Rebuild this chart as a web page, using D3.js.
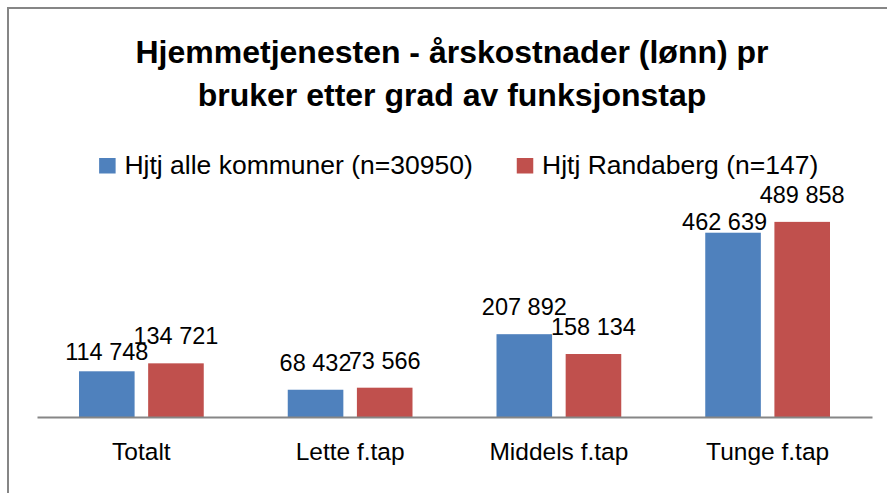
<!DOCTYPE html>
<html>
<head>
<meta charset="utf-8">
<script src="https://cdn.jsdelivr.net/npm/d3@7/dist/d3.min.js"></script>
<style>
  html, body { margin: 0; padding: 0; background: #ffffff; }
  svg { display: block; font-family: "Liberation Sans", Arial, sans-serif; }
</style>
</head>
<body>
<svg id="chart" width="887" height="493"></svg>
<script>
// ---- data ----
const titleLines = ["Hjemmetjenesten - årskostnader (lønn) pr", "bruker etter grad av funksjonstap"];
const categories = ["Totalt", "Lette f.tap", "Middels f.tap", "Tunge f.tap"];
const seriesNames = ["Hjtj alle kommuner (n=30950)", "Hjtj Randaberg (n=147)"];
const allKommuner = [114748, 68432, 207892, 462639];
const randaberg = [134721, 73566, 158134, 489858];
const seriesColors = ["#4F81BD", "#C0504D"];
// manual label nudges (dx, dy) as placed in the original chart
const labelNudge = [
  [[0, 7.5], [0, 0]],
  [[0, 0], [0, 0]],
  [[0, 0], [0, 0]],
  [[-8.5, 16], [0, 0]]
];

const fmt = v => d3.format(",")(v).replace(/,/g, " ");

const svg = d3.select("#chart");
const W = 887, H = 493;

// background + chart border
svg.append("rect").attr("width", W).attr("height", H).attr("fill", "#ffffff");
svg.append("rect")
  .attr("x", 8).attr("y", 8)
  .attr("width", 920).attr("height", 520)
  .attr("fill", "none").attr("stroke", "#868686").attr("stroke-width", 2);

// title
svg.append("g").selectAll("text").data(titleLines).join("text")
  .attr("x", 452).attr("y", (d, i) => 63 + i * 43)
  .attr("text-anchor", "middle")
  .attr("font-size", 32).attr("font-weight", "bold").attr("fill", "#000")
  .text(d => d);

// scales
const plotLeft = 37, plotRight = 872, baseY = 417, topY = 178;
const x0 = d3.scaleBand().domain(categories).range([plotLeft, plotRight])
  .paddingInner(0.4024).paddingOuter(0.2012);
const x1 = d3.scaleBand().domain([0, 1]).range([0, x0.bandwidth()]).paddingInner(0.196);
const y = d3.scaleLinear().domain([0, 600000]).range([baseY, topY]);

const rows = categories.map((c, i) => ({
  cat: c,
  vals: [allKommuner[i], randaberg[i]],
  nudge: labelNudge[i]
}));

// bars
const g = svg.append("g");
const cg = g.selectAll("g.cat").data(rows).join("g")
  .attr("class", "cat")
  .attr("transform", d => `translate(${x0(d.cat)},0)`);

cg.selectAll("rect").data(d => d.vals.map((v, s) => ({ v, s }))).join("rect")
  .attr("x", d => x1(d.s))
  .attr("y", d => y(d.v))
  .attr("width", x1.bandwidth())
  .attr("height", d => baseY - y(d.v))
  .attr("fill", d => seriesColors[d.s]);

// x axis
const xAxis = d3.axisBottom(x0).tickSize(0).tickPadding(0);
const axG = svg.append("g").attr("transform", `translate(0,${baseY})`).call(xAxis);
axG.select(".domain").attr("stroke", "#868686").attr("stroke-width", 2);
axG.selectAll(".tick text")
  .attr("dy", null).attr("y", 43)
  .attr("font-family", "Liberation Sans, Arial, sans-serif")
  .attr("font-size", 24.5).attr("fill", "#000");

// value labels
cg.selectAll("text.val").data(d => d.vals.map((v, s) => ({ v, s, n: d.nudge[s] }))).join("text")
  .attr("class", "val")
  .attr("x", d => x1(d.s) + x1.bandwidth() / 2 + d.n[0])
  .attr("y", d => y(d.v) - 19 + d.n[1])
  .attr("text-anchor", "middle")
  .attr("font-size", 23.5).attr("fill", "#000")
  .text(d => fmt(d.v));

// legend
const leg = svg.append("g");
const items = leg.selectAll("g").data(seriesNames).join("g");
items.append("rect")
  .attr("x", 0).attr("y", -16).attr("width", 16.5).attr("height", 15.5)
  .attr("fill", (d, i) => seriesColors[i]);
items.append("text")
  .attr("x", 25.3).attr("y", 0)
  .attr("font-size", 26.5).attr("fill", "#000")
  .text(d => d);
let xpos = 0;
const offsets = [];
items.each(function (d, i) {
  offsets.push(xpos);
  const w = 25.3 + d3.select(this).select("text").node().getComputedTextLength();
  xpos += w + 44;
});
const totalW = xpos - 44;
const legStart = 458.7 - totalW / 2;
items.attr("transform", (d, i) => `translate(${legStart + offsets[i]},174)`);
</script>
</body>
</html>
